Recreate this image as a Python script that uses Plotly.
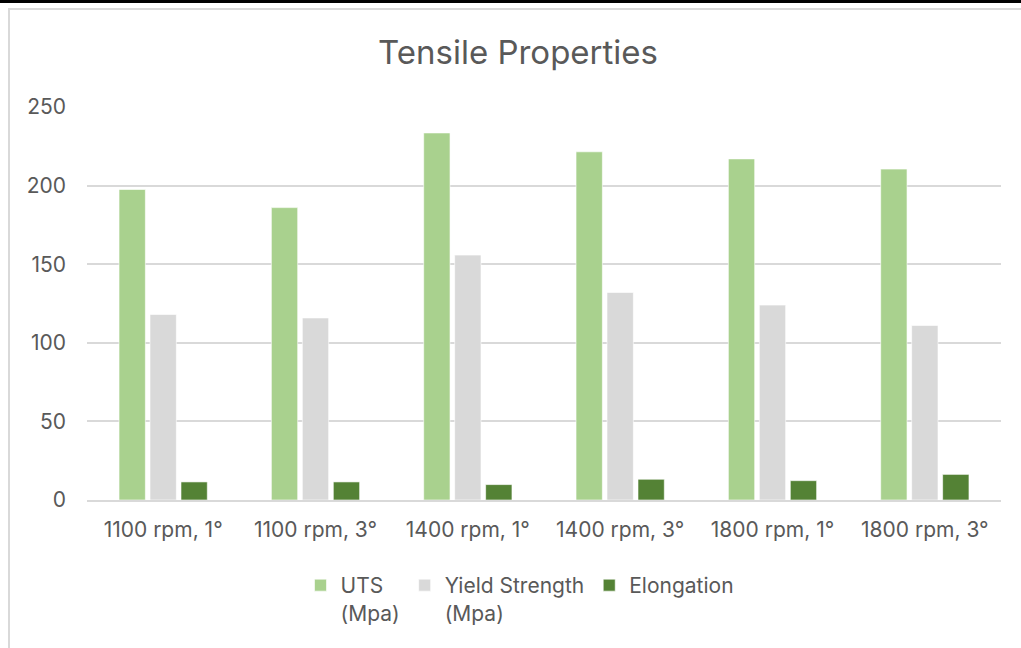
import plotly.graph_objects as go

# Process conditions (spindle speed, tilt angle)
categories = ["1100 rpm, 1°", "1100 rpm, 3°", "1400 rpm, 1°",
              "1400 rpm, 3°", "1800 rpm, 1°", "1800 rpm, 3°"]

# Tensile test results
uts_mpa = [197.5, 186.0, 233.5, 221.5, 217.0, 210.5]
yield_mpa = [118.0, 115.8, 155.8, 132.0, 124.0, 111.0]
elongation = [11.5, 11.5, 9.8, 13.2, 12.3, 16.3]

series_names = ["UTS<br>(Mpa)", "Yield Strength<br>(Mpa)", "Elongation"]
series_colors = ["#A9D18E", "#D9D9D9", "#548235"]

W, H = 1021, 648
ML, MR, MT, MB = 87, 20, 107, 148
PW, PH = W - ML - MR, H - MT - MB

def px_x(x):
    return (x - ML) / PW

def px_y(y):
    return (H - MB - y) / PH

FONT = "Inter"
TEXT = "#595959"
GRID = "#D9D9D9"

fig = go.Figure()
for name, vals, col in zip(series_names, [uts_mpa, yield_mpa, elongation], series_colors):
    fig.add_trace(go.Bar(
        x=categories, y=vals, name=name,
        marker=dict(color=col, line=dict(color="rgba(255,255,255,0.6)", width=1)),
    ))

# chart frame: dark strip along the top and a light border
shapes = [
    dict(type="rect", xref="paper", yref="paper",
         x0=px_x(0), x1=px_x(W), y0=px_y(3), y1=px_y(0),
         fillcolor="#000000", line=dict(width=0), layer="above"),
    dict(type="line", xref="paper", yref="paper",
         x0=px_x(8), x1=px_x(W), y0=px_y(9), y1=px_y(9),
         line=dict(color=GRID, width=2), layer="above"),
    dict(type="line", xref="paper", yref="paper",
         x0=px_x(9), x1=px_x(9), y0=px_y(8), y1=px_y(H),
         line=dict(color=GRID, width=2), layer="above"),
]

fig.update_layout(
    width=W, height=H,
    margin=dict(l=ML, r=MR, t=MT, b=MB),
    paper_bgcolor="white", plot_bgcolor="white",
    font=dict(family=FONT, color=TEXT, size=21),
    title=dict(text="Tensile Properties", x=518 / W, xanchor="center",
               y=1 - 52 / H, yanchor="middle",
               font=dict(family=FONT, size=33, color=TEXT)),
    barmode="group", bargap=0.39, bargroupgap=0.15,
    xaxis=dict(showgrid=False, showline=True, linecolor=GRID, linewidth=2,
               ticks="", tickfont=dict(size=21, color=TEXT),
               ticklabelstandoff=10),
    yaxis=dict(range=[0, 250], dtick=50, showgrid=True, gridcolor=GRID,
               gridwidth=2, zeroline=False, showline=False, ticks="",
               tickfont=dict(size=21, color=TEXT), ticklabelstandoff=20),
    legend=dict(orientation="h", x=px_x(520), xanchor="center",
                y=px_y(565), yanchor="top", valign="top",
                font=dict(size=21, color=TEXT), traceorder="normal"),
    shapes=shapes,
)

fig.write_html("out.html")
